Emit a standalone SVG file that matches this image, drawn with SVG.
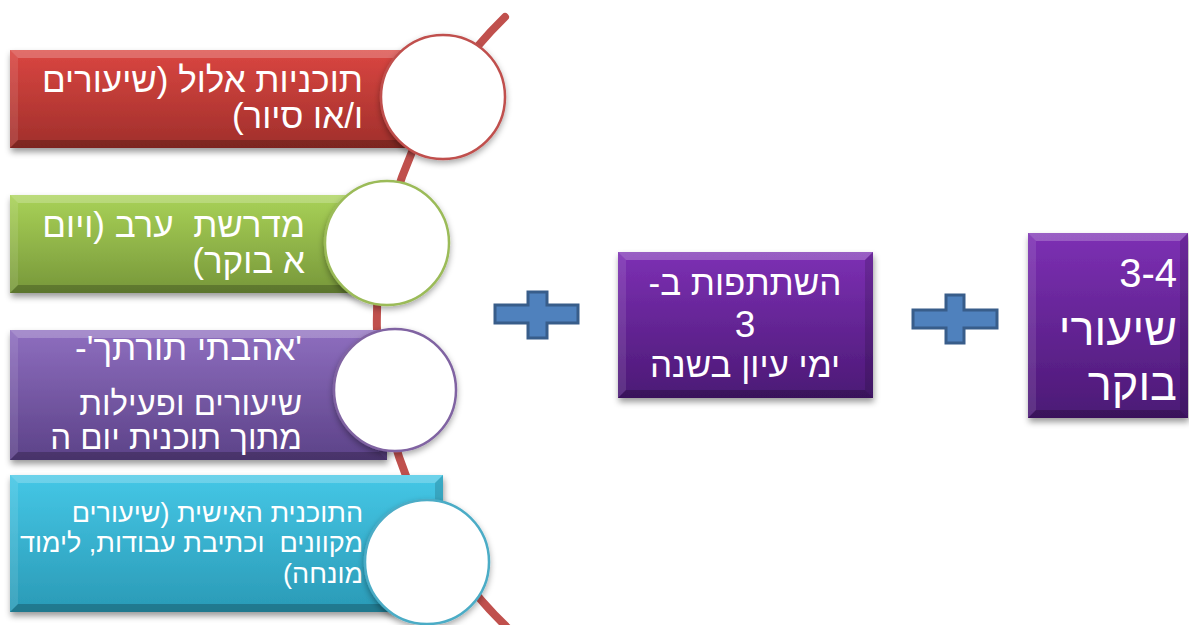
<svg xmlns="http://www.w3.org/2000/svg" width="1189" height="625" viewBox="0 0 1189 625">
<defs>
<linearGradient id="gRed" x1="0" y1="0" x2="0" y2="1"><stop offset="0" stop-color="#da4641"/><stop offset="1" stop-color="#a02f2b"/></linearGradient>
<linearGradient id="gGreen" x1="0" y1="0" x2="0" y2="1"><stop offset="0" stop-color="#a9d257"/><stop offset="1" stop-color="#77973a"/></linearGradient>
<linearGradient id="gLav" x1="0" y1="0" x2="0" y2="1"><stop offset="0" stop-color="#8e6ebf"/><stop offset="1" stop-color="#5c4288"/></linearGradient>
<linearGradient id="gCyan" x1="0" y1="0" x2="0" y2="1"><stop offset="0" stop-color="#45c7e6"/><stop offset="1" stop-color="#2a9ab6"/></linearGradient>
<linearGradient id="gPurple" x1="0" y1="0" x2="0" y2="1"><stop offset="0" stop-color="#7d30b4"/><stop offset="1" stop-color="#4b1975"/></linearGradient>
<filter id="sh" x="-10%" y="-10%" width="125%" height="130%"><feDropShadow dx="1" dy="4" stdDeviation="3" flood-color="#000" flood-opacity="0.4"/></filter>
<filter id="csh" x="-20%" y="-20%" width="140%" height="140%"><feDropShadow dx="0" dy="3" stdDeviation="3" flood-color="#000" flood-opacity="0.35"/></filter>
</defs>
<style>
.hl{fill:#fff;opacity:0.22}
.hl2{fill:#fff;opacity:0.1}
.dk{fill:#000;opacity:0.22}
.dk2{fill:#000;opacity:0.14}
.t{font-family:"Liberation Sans",Arial,"DejaVu Sans",sans-serif;fill:#fff;direction:rtl;white-space:pre}
.circ{fill:#fff;stroke-width:2.5;filter:url(#csh)}
.plus{fill:#4f81bd;stroke:#385d8a;stroke-width:3}
</style>
<g id="connectors">
<path d="M505,17 A425,425 0 0 0 512,632" fill="none" stroke="#c0504d" stroke-width="8" stroke-linecap="round"/>
</g>
<g id="node-elul">
<rect x="10" y="50" width="433" height="98" fill="url(#gRed)" filter="url(#sh)"/>
<path class="hl" d="M10,50 L443,50 L435,58 L18,58 Z"/>
<path class="hl2" d="M10,50 L18,58 L18,140 L10,148 Z"/>
<path class="dk" d="M10,148 L18,140 L435,140 L443,148 Z"/>
<path class="dk2" d="M443,50 L443,148 L435,140 L435,58 Z"/>
<text class="t" x="363" y="92" font-size="35" text-anchor="start">תוכניות אלול (שיעורים</text>
<text class="t" x="363" y="128" font-size="35" text-anchor="start">ו/או סיור)</text>
<circle class="circ" cx="443" cy="97" r="62" stroke="#c0504d"/>
</g>
<g id="node-midrasha">
<rect x="10" y="195" width="377" height="98" fill="url(#gGreen)" filter="url(#sh)"/>
<path class="hl" d="M10,195 L387,195 L379,203 L18,203 Z"/>
<path class="hl2" d="M10,195 L18,203 L18,285 L10,293 Z"/>
<path class="dk" d="M10,293 L18,285 L379,285 L387,293 Z"/>
<path class="dk2" d="M387,195 L387,293 L379,285 L379,203 Z"/>
<text class="t" x="305" y="237" font-size="35" text-anchor="start">מדרשת  ערב (ויום</text>
<text class="t" x="305" y="273" font-size="35" text-anchor="start">א בוקר)</text>
<circle class="circ" cx="387" cy="243" r="62" stroke="#9bbb59"/>
</g>
<g id="node-ahavti">
<rect x="10" y="330" width="377" height="130" fill="url(#gLav)" filter="url(#sh)"/>
<path class="hl" d="M10,330 L387,330 L379,338 L18,338 Z"/>
<path class="hl2" d="M10,330 L18,338 L18,452 L10,460 Z"/>
<path class="dk" d="M10,460 L18,452 L379,452 L387,460 Z"/>
<path class="dk2" d="M387,330 L387,460 L379,452 L379,338 Z"/>
<text class="t" x="302" y="360" font-size="35" text-anchor="start">'אהבתי תורתך'-</text>
<text class="t" x="302" y="415" font-size="33" text-anchor="start">שיעורים ופעילות</text>
<text class="t" x="302" y="449" font-size="33" text-anchor="start">מתוך תוכנית יום ה</text>
<circle class="circ" cx="395" cy="390" r="61" stroke="#8064a2"/>
</g>
<g id="node-personal">
<rect x="10" y="475" width="433" height="137" fill="url(#gCyan)" filter="url(#sh)"/>
<path class="hl" d="M10,475 L443,475 L435,483 L18,483 Z"/>
<path class="hl2" d="M10,475 L18,483 L18,604 L10,612 Z"/>
<path class="dk" d="M10,612 L18,604 L435,604 L443,612 Z"/>
<path class="dk2" d="M443,475 L443,612 L435,604 L435,483 Z"/>
<text class="t" x="363" y="522" font-size="27" text-anchor="start">התוכנית האישית (שיעורים</text>
<text class="t" x="363" y="552" font-size="27" text-anchor="start">מקוונים  וכתיבת עבודות, לימוד</text>
<text class="t" x="363" y="583" font-size="27" text-anchor="start">מונחה)</text>
<circle class="circ" cx="427" cy="562" r="62" stroke="#4bacc6"/>
</g>
<g id="plus-1">
<path class="plus" d="M495,305 H528 V292 H547 V305 H578 V323 H547 V338 H528 V323 H495 Z"/>
</g>
<g id="node-iyun">
<rect x="618" y="252" width="255" height="146" fill="url(#gPurple)" filter="url(#sh)"/>
<path class="hl" d="M618,252 L873,252 L865,260 L626,260 Z"/>
<path class="hl2" d="M618,252 L626,260 L626,390 L618,398 Z"/>
<path class="dk" d="M618,398 L626,390 L865,390 L873,398 Z"/>
<path class="dk2" d="M873,252 L873,398 L865,390 L865,260 Z"/>
<text class="t" x="745" y="295" font-size="35" text-anchor="middle">השתתפות ב-</text>
<text class="t" x="745" y="337" font-size="37" text-anchor="middle">3</text>
<text class="t" x="745" y="377" font-size="35" text-anchor="middle">ימי עיון בשנה</text>
</g>
<g id="plus-2">
<path class="plus" d="M913,310 H946 V295 H964 V310 H997 V328 H964 V343 H946 V328 H913 Z"/>
</g>
<g id="node-boker">
<rect x="1028" y="233" width="160" height="185" fill="url(#gPurple)" filter="url(#sh)"/>
<path class="hl" d="M1028,233 L1188,233 L1180,241 L1036,241 Z"/>
<path class="hl2" d="M1028,233 L1036,241 L1036,410 L1028,418 Z"/>
<path class="dk" d="M1028,418 L1036,410 L1180,410 L1188,418 Z"/>
<path class="dk2" d="M1188,233 L1188,418 L1180,410 L1180,241 Z"/>
<text class="t" x="1177" y="287" font-size="40" text-anchor="start">3-4</text>
<text class="t" x="1177" y="345" font-size="45" text-anchor="start">שיעורי</text>
<text class="t" x="1177" y="400" font-size="45" text-anchor="start">בוקר</text>
</g>
</svg>
